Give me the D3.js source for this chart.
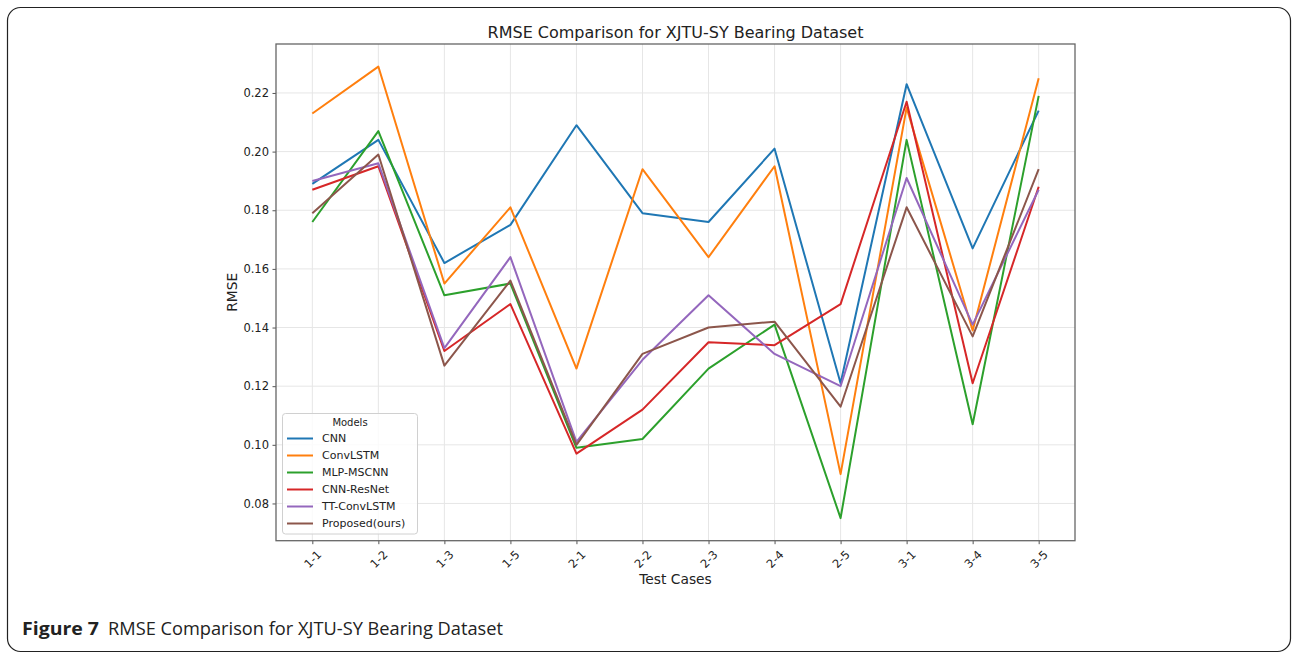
<!DOCTYPE html>
<html>
<head>
<meta charset="utf-8">
<script src="https://cdn.jsdelivr.net/npm/d3@7"></script>
<style>
  body { margin: 0; background: #fff; }
  svg { display: block; }
</style>
</head>
<body>
<svg id="chart" width="1293" height="654"></svg>
<script>
// ********************************* Data

var testCases = ['1-1', '1-2', '1-3', '1-5', '2-1', '2-2', '2-3', '2-4', '2-5', '3-1', '3-4', '3-5'];

var cnn        = [0.189, 0.204, 0.162, 0.175, 0.209, 0.179, 0.176, 0.201, 0.121, 0.223, 0.167, 0.214];
var convLstm   = [0.213, 0.229, 0.155, 0.181, 0.126, 0.194, 0.164, 0.195, 0.090, 0.215, 0.139, 0.225];
var mlpMscnn   = [0.176, 0.207, 0.151, 0.155, 0.099, 0.102, 0.126, 0.141, 0.075, 0.204, 0.107, 0.219];
var cnnResNet  = [0.187, 0.195, 0.132, 0.148, 0.097, 0.112, 0.135, 0.134, 0.148, 0.217, 0.121, 0.188];
var ttConvLstm = [0.190, 0.196, 0.133, 0.164, 0.101, 0.129, 0.151, 0.131, 0.120, 0.191, 0.141, 0.187];
var proposed   = [0.179, 0.199, 0.127, 0.156, 0.100, 0.131, 0.140, 0.142, 0.113, 0.181, 0.137, 0.194];

var modelNames = ['CNN', 'ConvLSTM', 'MLP-MSCNN', 'CNN-ResNet', 'TT-ConvLSTM', 'Proposed(ours)'];
var yTicks = [0.08, 0.10, 0.12, 0.14, 0.16, 0.18, 0.20, 0.22];

var series = [cnn, convLstm, mlpMscnn, cnnResNet, ttConvLstm, proposed];
var colors = ['#1f77b4', '#ff7f0e', '#2ca02c', '#d62728', '#9467bd', '#8c564b'];

// ********************************* Layout

var plot = {left: 276, right: 1075, top: 44, bottom: 540.7};
var font = "'DejaVu Sans', sans-serif";

var svg = d3.select('#chart');

// outer figure frame
svg.append('rect')
  .attr('x', 7.5).attr('y', 7.5)
  .attr('width', 1283).attr('height', 644)
  .attr('rx', 13)
  .attr('fill', 'none')
  .attr('stroke', '#222')
  .attr('stroke-width', 1.2);

// ********************************* Scales

var allValues = d3.merge(series);
var yMin = d3.min(allValues), yMax = d3.max(allValues);
var pad = (yMax - yMin) * 0.05;

var x = d3.scaleLinear()
  .domain([-0.55, testCases.length - 1 + 0.55])
  .range([plot.left, plot.right]);

var y = d3.scaleLinear()
  .domain([yMin - pad, yMax + pad])
  .range([plot.bottom, plot.top]);

// ********************************* Grid Lines

var grid = svg.append('g').attr('class', 'grid');

grid.selectAll('.vgrid')
  .data(testCases)
  .enter().append('line')
  .attr('x1', function(d, i) { return x(i); })
  .attr('x2', function(d, i) { return x(i); })
  .attr('y1', plot.top).attr('y2', plot.bottom)
  .attr('stroke', '#e6e6e6').attr('stroke-width', 1);

grid.selectAll('.hgrid')
  .data(yTicks)
  .enter().append('line')
  .attr('x1', plot.left).attr('x2', plot.right)
  .attr('y1', function(d) { return y(d); })
  .attr('y2', function(d) { return y(d); })
  .attr('stroke', '#e6e6e6').attr('stroke-width', 1);

// ********************************* Axes

var xAxis = svg.append('g')
  .attr('transform', 'translate(0,' + plot.bottom + ')')
  .call(d3.axisBottom(x)
    .tickValues(d3.range(testCases.length))
    .tickSize(3.5)
    .tickFormat(function(i) { return testCases[i]; }));

xAxis.select('.domain').remove();
xAxis.selectAll('line').attr('stroke', '#555');
xAxis.selectAll('text')
  .attr('font-family', font)
  .attr('font-size', 11.5)
  .attr('fill', '#222')
  .attr('text-anchor', 'middle')
  .attr('dy', null)
  .attr('y', 0)
  .attr('dominant-baseline', 'central')
  .attr('transform', 'translate(0,18.5) rotate(-45)');

var yAxis = svg.append('g')
  .attr('transform', 'translate(' + plot.left + ',0)')
  .call(d3.axisLeft(y)
    .tickValues(yTicks)
    .tickSize(3.5)
    .tickPadding(3.5)
    .tickFormat(d3.format('.2f')));

yAxis.select('.domain').remove();
yAxis.selectAll('line').attr('stroke', '#555');
yAxis.selectAll('text')
  .attr('font-family', font)
  .attr('font-size', 11.5)
  .attr('fill', '#222');

// ********************************* Lines

var line = d3.line()
  .x(function(d, i) { return x(i); })
  .y(function(d) { return y(d); });

svg.append('g').selectAll('path')
  .data(series)
  .enter().append('path')
  .attr('d', line)
  .attr('fill', 'none')
  .attr('stroke', function(d, i) { return colors[i]; })
  .attr('stroke-width', 2)
  .attr('stroke-linejoin', 'round');

// plot frame
svg.append('rect')
  .attr('x', plot.left).attr('y', plot.top)
  .attr('width', plot.right - plot.left)
  .attr('height', plot.bottom - plot.top)
  .attr('fill', 'none')
  .attr('stroke', '#666')
  .attr('stroke-width', 1.3);

// ********************************* Labels

svg.append('text')
  .attr('x', (plot.left + plot.right) / 2).attr('y', 38)
  .attr('text-anchor', 'middle')
  .attr('font-family', font).attr('font-size', 16)
  .attr('fill', '#222')
  .text('RMSE Comparison for XJTU-SY Bearing Dataset');

svg.append('text')
  .attr('x', (plot.left + plot.right) / 2).attr('y', 584)
  .attr('text-anchor', 'middle')
  .attr('font-family', font).attr('font-size', 13.8)
  .attr('fill', '#222')
  .text('Test Cases');

svg.append('text')
  .attr('transform', 'translate(237,' + ((plot.top + plot.bottom) / 2) + ') rotate(-90)')
  .attr('text-anchor', 'middle')
  .attr('font-family', font).attr('font-size', 13.8)
  .attr('fill', '#222')
  .text('RMSE');

// ********************************* Legend

var legend = svg.append('g').attr('transform', 'translate(282.5,413.5)');

legend.append('rect')
  .attr('width', 135).attr('height', 120.5)
  .attr('rx', 3)
  .attr('fill', '#fff').attr('fill-opacity', 0.8)
  .attr('stroke', '#d0d0d0').attr('stroke-width', 1);

legend.append('text')
  .attr('x', 67.5).attr('y', 12)
  .attr('text-anchor', 'middle')
  .attr('font-family', font).attr('font-size', 10)
  .attr('fill', '#222')
  .text('Models');

var entry = legend.selectAll('.entry')
  .data(modelNames)
  .enter().append('g')
  .attr('transform', function(d, i) { return 'translate(0,' + (25 + i * 17) + ')'; });

entry.append('line')
  .attr('x1', 4.5).attr('x2', 30.5)
  .attr('stroke', function(d, i) { return colors[i]; })
  .attr('stroke-width', 2);

entry.append('text')
  .attr('x', 39.5).attr('y', 0)
  .attr('dominant-baseline', 'central')
  .attr('font-family', font).attr('font-size', 11)
  .attr('fill', '#222')
  .text(function(d) { return d; });

// ********************************* Caption

var caption = svg.append('text')
  .attr('y', 635)
  .attr('font-family', "'Open Sans', sans-serif").attr('font-size', 18)
  .attr('fill', '#222');

caption.append('tspan')
  .attr('x', 22)
  .attr('font-weight', 'bold')
  .attr('textLength', 77)
  .attr('lengthAdjust', 'spacingAndGlyphs')
  .text('Figure 7');

caption.append('tspan')
  .attr('x', 108)
  .attr('textLength', 395)
  .attr('lengthAdjust', 'spacingAndGlyphs')
  .text('RMSE Comparison for XJTU-SY Bearing Dataset');
</script>
</body>
</html>
